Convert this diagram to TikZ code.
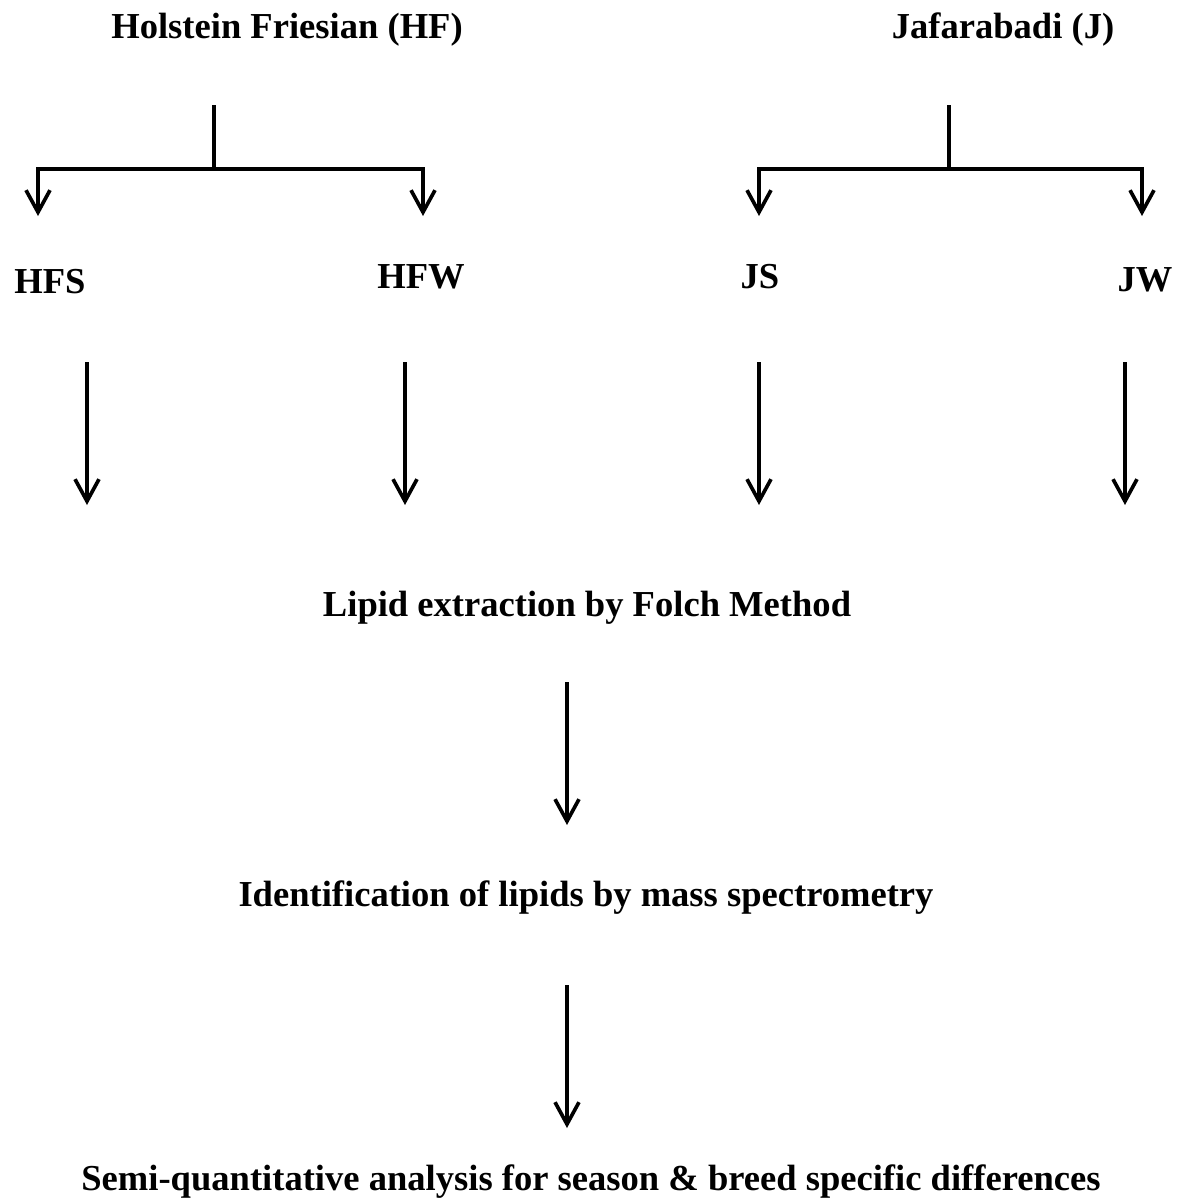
\documentclass[tikz,border=0pt]{standalone}
\usepackage{fontspec}
\setmainfont{Liberation Serif}
\usetikzlibrary{arrows.meta}

\tikzset{
  lbl/.style={font=\bfseries\fontsize{26}{30}\selectfont, inner sep=0pt, anchor=center},
  link/.style={line width=2.6pt},
  flow/.style={link, -{Straight Barb[length=5.5mm,width=6mm,line width=2.6pt]}}
}

\begin{document}
\begin{tikzpicture}[x=0.025cm,y=-0.025cm]
\useasboundingbox (0,0) rectangle (1193,1203);

% breeds
\node[lbl] (hf) at (287,30) {Holstein Friesian (HF)};
\node[lbl] (jf) at (1003,30) {Jafarabadi (J)};

% groups
\node[lbl] (hfs) at (50,282) {HFS};
\node[lbl] (hfw) at (421,277) {HFW};
\node[lbl] (js) at (760,277) {JS};
\node[lbl] (jw) at (1145,280) {JW};

% steps
\node[lbl] (lipid) at (587,608) {Lipid extraction by Folch Method};
\node[lbl] (ident) at (586,898) {Identification of lipids by mass spectrometry};
\node[lbl] (semi) at (591,1182) {Semi-quantitative analysis for season \& breed specific differences};

% branch points
\coordinate (hftop) at (214,105);
\coordinate (hfmid) at (214,169);
\coordinate (hfl) at (38,216);
\coordinate (hfr) at (423,216);
\coordinate (jtop) at (949,105);
\coordinate (jmid) at (949,169);
\coordinate (jl) at (759,216);
\coordinate (jr) at (1142,216);

\draw[link] (hftop) -- (hfmid);
\draw[flow] (hfmid) -| (hfl);
\draw[flow] (hfmid) -| (hfr);
\draw[link] (jtop) -- (jmid);
\draw[flow] (jmid) -| (jl);
\draw[flow] (jmid) -| (jr);

% long arrows
\foreach \name/\xx in {a/87,b/405,c/759,d/1125}{
  \coordinate (\name s) at (\xx,362);
  \coordinate (\name e) at (\xx,505);
  \draw[flow] (\name s) -- (\name e);
}

\coordinate (ls) at (567,682);
\coordinate (le) at (567,825);
\coordinate (is) at (567,985);
\coordinate (ie) at (567,1128);
\draw[flow] (ls) -- (le);
\draw[flow] (is) -- (ie);

\end{tikzpicture}
\end{document}
